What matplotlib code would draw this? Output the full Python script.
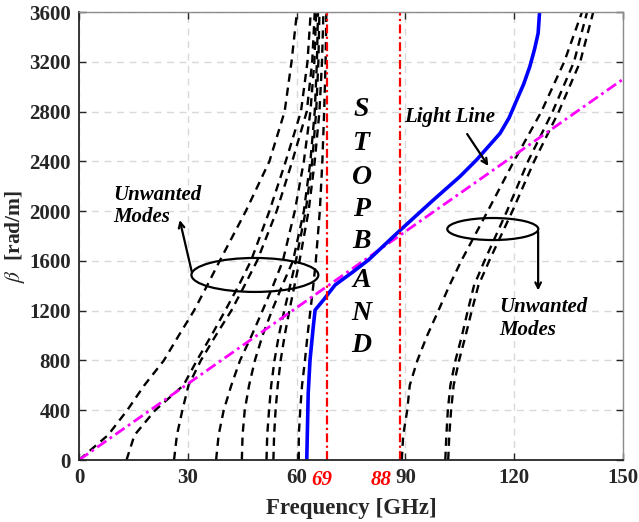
import matplotlib
matplotlib.use("Agg")
import matplotlib.pyplot as plt
from matplotlib.patches import Ellipse
from matplotlib.transforms import blended_transform_factory

plt.rcParams['font.family'] = ['Liberation Serif', 'DejaVu Serif']
plt.rcParams['mathtext.fontset'] = 'stix'

# ---- data ----
beta_levels = [0, 200, 400, 600, 800, 1000, 1200, 1400, 1600, 2000, 2400, 2800, 3200, 3600]
mode1 = [0.0, 8.0, 13.3, 18.0, 23.4, 27.5, 31.7, 35.3, 38.8, 46.0, 52.5, 56.7, 58.6, 60.1]
mode2 = [13.1, 15.3, 21.0, 28.8, 32.5, 36.5, 40.3, 44.0, 47.4, 52.5, 57.0, 61.2, 63.0, 63.9]
mode3 = [26.2, 27.0, 28.5, 30.2, 33.6, 37.7, 42.0, 45.6, 49.1, 54.5, 58.8, 62.8, 64.3, 65.0]
mode4 = [37.8, 38.5, 39.9, 42.0, 44.4, 47.6, 50.6, 53.5, 56.2, 59.5, 62.0, 63.8, 64.9, 65.4]
mode5 = [44.9, 45.1, 45.7, 46.9, 48.5, 50.6, 53.2, 56.0, 59.0, 62.0, 63.8, 65.0, 65.6, 65.9]
mode6 = [51.7, 51.9, 52.4, 53.0, 53.9, 55.1, 56.6, 58.2, 59.8, 62.5, 64.3, 65.4, 66.0, 66.3]
mode7 = [53.6, 53.8, 54.2, 54.8, 55.6, 56.7, 58.0, 59.4, 60.8, 63.3, 65.0, 66.3, 67.0, 67.4]
mode8 = [60.6, 60.6, 61.0, 61.5, 62.3, 63.0, 63.8, 64.6, 65.3, 66.4, 67.1, 67.6, 68.0, 68.2]
mode_r1 = [89.0, 89.4, 90.5, 91.2, 93.3, 96.0, 99.1, 102.1, 105.4, 112.7, 119.9, 127.5, 133.8, 138.7]
mode_r2 = [101.0, 101.3, 101.7, 102.4, 103.8, 105.6, 107.2, 108.9, 111.8, 118.0, 123.8, 130.6, 136.5, 140.1]
mode_r3 = [101.8, 102.1, 102.6, 103.3, 104.8, 106.6, 108.3, 110.1, 113.1, 119.5, 125.5, 132.3, 138.2, 141.8]

main_f = [62.8, 63.2, 63.7, 64.6, 65.1, 67.4, 70.6, 75.6, 79.8, 88.5, 97.7, 105.0, 109.6,
          116.1, 118.6, 120.7, 122.6, 124.3, 125.6, 126.6, 127.0]
main_beta = [0, 536, 804, 1072, 1205, 1286, 1406, 1513, 1607, 1845, 2089, 2277, 2411,
             2625, 2750, 2893, 3020, 3161, 3300, 3429, 3600]

light_f = [0, 150]
light_beta = [0, 3060]

stopband = [68.3, 88.4]
stopband_labels = ['69', '88']
stopband_label_x = [67.0, 83.3]

xticks = [0, 30, 60, 90, 120, 150]
yticks = list(range(0, 3601, 400))

# ---- figure ----
fig = plt.figure(figsize=(6.39, 5.22), dpi=100)
ax = fig.add_axes([79/639, 1-460/522, (623-79)/639, (460-12)/522])

ax.grid(True, color='#d9d9d9', linestyle=(0, (5, 4)), linewidth=1.0)
ax.set_axisbelow(True)

for m in [mode1, mode2, mode3, mode4, mode5, mode6, mode7, mode8, mode_r1, mode_r2, mode_r3]:
    ax.plot(m, beta_levels, color='black', linestyle=(0, (3.5, 2.5)), linewidth=1.7)

ax.plot(light_f, light_beta, color='#ff00ff', linestyle=(0, (4, 1.5, 1, 1.5)), linewidth=2.0)
ax.plot(main_f, main_beta, color='#0000ff', linewidth=2.6, solid_joinstyle='round')

for s in stopband:
    ax.axvline(s, color='#ff0000', linestyle=(0, (4, 1.5, 1, 1.5)), linewidth=1.6)

ax.set_xlim(0, 150)
ax.set_ylim(0, 3600)
ax.set_xticks(xticks)
ax.set_yticks(yticks)
ax.tick_params(direction='in', top=True, right=True, length=5, width=1.0,
               labelsize=15, pad=6, colors='#262626')
for lab in ax.get_xticklabels() + ax.get_yticklabels():
    lab.set_fontweight('bold')
for side in ['left', 'bottom']:
    ax.spines[side].set_color('#262626')
    ax.spines[side].set_linewidth(1.3)
for side in ['top', 'right']:
    ax.spines[side].set_color('#8c8c8c')
    ax.spines[side].set_linewidth(1.0)

ax.set_xlabel('Frequency [GHz]', fontsize=16.5, fontweight='bold', color='#262626', labelpad=7)
ax.set_ylabel(r'$\beta$  [rad/m]', fontsize=15.5, fontweight='bold', color='#262626')
ax.yaxis.set_label_coords(-0.095, 0.5)

trans = blended_transform_factory(ax.transData, ax.transAxes)
for lx, lt in zip(stopband_label_x, stopband_labels):
    ax.text(lx, -0.045, lt, transform=trans, color='#ff0000', fontsize=15,
            fontweight='bold', fontstyle='italic', ha='center', va='center')

# STOPBAND letters
letters = list('STOPBAND')
letter_beta = [2813, 2547, 2274, 2009, 1752, 1446, 1181, 924]
for ch, b in zip(letters, letter_beta):
    ax.text(77.9, b, ch, fontsize=20, fontweight='bold', fontstyle='italic',
            ha='center', va='center', color='black')

# annotations
ax.text(102.3, 2756, 'Light Line', fontsize=15, fontweight='bold', fontstyle='italic',
        ha='center', va='center')
ax.annotate('', xy=(113.3, 2344), xytext=(106.6, 2638),
            arrowprops=dict(arrowstyle='->', color='black', lw=1.6))

ax.text(9.4, 2041, 'Unwanted\nModes', fontsize=15, fontweight='bold', fontstyle='italic',
        ha='left', va='center', linespacing=1.15)
ax.add_patch(Ellipse((48.5, 1487), 35, 273, fill=False, edgecolor='black', linewidth=1.6))
ax.annotate('', xy=(27.6, 1950), xytext=(31.3, 1487),
            arrowprops=dict(arrowstyle='->', color='black', lw=1.6))

ax.text(115.8, 1137, 'Unwanted\nModes', fontsize=15, fontweight='bold', fontstyle='italic',
        ha='left', va='center', linespacing=1.15)
ax.add_patch(Ellipse((114.1, 1856), 25.1, 177, fill=False, edgecolor='black', linewidth=1.6))
ax.annotate('', xy=(126.6, 1340), xytext=(126.6, 1856),
            arrowprops=dict(arrowstyle='->', color='black', lw=1.6))

fig.savefig('out.png', dpi=100)
